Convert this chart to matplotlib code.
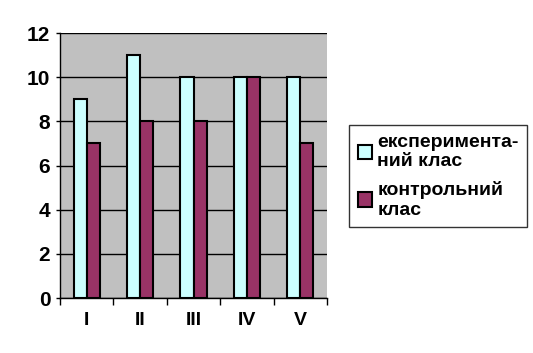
import numpy as np
import matplotlib.pyplot as plt

# дані з діаграми
categories = ["I", "II", "III", "IV", "V"]
exp_values = [9, 11, 10, 10, 10]
ctrl_values = [7, 8, 8, 10, 7]
labels = ["експеримента-\nний клас", "контрольний\nклас"]

plt.rcParams['font.family'] = ['Liberation Sans', 'DejaVu Sans']
plt.rcParams['font.weight'] = 'bold'

fig = plt.figure(figsize=(5.33, 3.53), dpi=100)
ax = fig.add_axes([0.1126, 0.1558, 0.501, 0.7507])

x = np.arange(len(categories))
w = 0.245
ax.bar(x - w / 2, exp_values, w, color='#CCFFFF', edgecolor='black', linewidth=1.5,
       label=labels[0], zorder=3)
ax.bar(x + w / 2, ctrl_values, w, color='#993366', edgecolor='black', linewidth=1.5,
       label=labels[1], zorder=3)

ax.set_facecolor('#C0C0C0')
ax.set_xlim(-0.5, 4.5)
ax.set_ylim(0, 12)
ax.set_yticks(range(0, 13, 2))
ax.set_xticks(x)
ax.set_xticklabels(categories, fontsize=14, fontweight='bold')
ax.set_xticks(np.arange(-0.5, 5, 1), minor=True)
ax.tick_params(axis='x', which='major', length=0, pad=10)
ax.tick_params(axis='x', which='minor', length=5, width=1, direction='out')
ax.tick_params(axis='y', length=3, width=1, labelsize=15, pad=4)
for t in ax.get_yticklabels():
    t.set_fontweight('bold')
ax.grid(axis='y', color='black', linewidth=1, zorder=1)
for side in ['top', 'right']:
    ax.spines[side].set_visible(False)
ax.spines['left'].set_linewidth(1)
ax.spines['bottom'].set_linewidth(1)

leg = fig.legend(loc='upper left', bbox_to_anchor=(349 / 533, 1 - 125 / 353),
                 borderaxespad=0, fontsize=14, frameon=True, fancybox=False,
                 handlelength=0.75, handleheight=0.75, handletextpad=0.25,
                 borderpad=0.45, labelspacing=0.55)
leg.get_frame().set_edgecolor('black')
leg.get_frame().set_linewidth(1)
for t in leg.get_texts():
    t.set_fontweight('bold')

fig.savefig('out.png', dpi=100)
